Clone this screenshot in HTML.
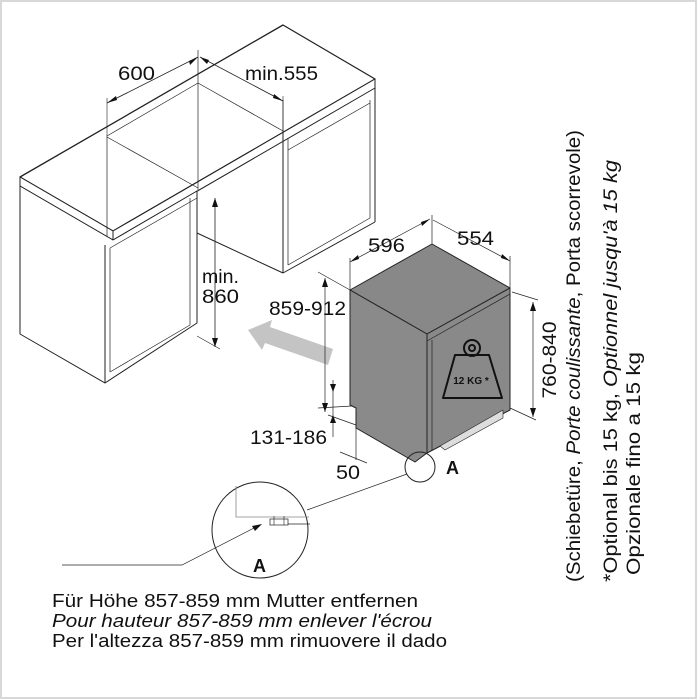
<!DOCTYPE html>
<html><head><meta charset="utf-8"><style>
html,body{margin:0;padding:0;background:#fff;}
svg{display:block;font-family:"Liberation Sans",sans-serif;}
</style></head><body>
<svg width="697" height="700" viewBox="0 0 697 700" xmlns="http://www.w3.org/2000/svg">
<rect x="1" y="1" width="695" height="697" fill="#fff" stroke="#d8d8d8" stroke-width="2"/>
<g fill="none" stroke="#222" stroke-width="1" stroke-linejoin="round">
<!-- countertop -->
<polygon points="20,177 283,25 375,79 113,231" fill="#fff" stroke-width="1.3"/>
<polygon points="20,177 113,231 113,240 20,186" fill="#fff"/>
<polygon points="113,231 375,79 375,88 113,240" fill="#fff"/>
<!-- back opening lines (visible through) -->
<polyline points="107,237 107,136 198,83 283,131 283,100" stroke-width="0.7"/>
<line x1="198" y1="50" x2="198" y2="190" stroke-width="0.7"/>
<line x1="107" y1="137" x2="198" y2="188" stroke-width="0.7"/>
<!-- left cabinet -->
<polygon points="20,186 113,240 197,191 197,323 105,383 20,334" fill="#fff"/>
<line x1="105" y1="245" x2="105" y2="383"/>
<line x1="110" y1="248" x2="110" y2="372" stroke-width="0.7"/>
<polyline points="110,248 197,198" stroke-width="0.7"/>
<polyline points="110,372 190,325 190,198" stroke-width="0.7"/>
<!-- gap floor line -->
<polyline points="197,233 283,273" />
<!-- right cabinet -->
<line x1="283" y1="131" x2="283" y2="273"/>
<line x1="288" y1="138" x2="288" y2="265" stroke-width="0.7"/>
<line x1="375" y1="88" x2="375" y2="222"/>
<polyline points="283,273 375,222"/>
<polyline points="288,265 370,218 370,100" stroke-width="0.7"/>
<line x1="288" y1="150" x2="370" y2="103" stroke-width="0.7"/>
<!-- dim 600 / min.555 -->
<line x1="107" y1="103" x2="198" y2="57" stroke-width="0.8"/>
<line x1="200" y1="57" x2="283" y2="101" stroke-width="0.8"/>
<line x1="107" y1="98" x2="107" y2="136" stroke-width="0.6"/>
<line x1="283" y1="96" x2="283" y2="131" stroke-width="0.6"/>
<!-- min 860 -->
<line x1="215" y1="198" x2="215" y2="347" stroke-width="0.8"/>
<line x1="197" y1="336" x2="220" y2="349" stroke-width="0.6"/>
</g>
<g fill="#111">
<polygon points="107,103 116,96 117,100"/>
<polygon points="198,57 189,61 190,65"/>
<polygon points="200,57 209,60 207,64"/>
<polygon points="283,101 274,94 273,98"/>
<polygon points="215,198 212,207 218,207"/>
<polygon points="215,347 212,338 218,338"/>
</g>
<g font-size="19" fill="#111">
<text x="118" y="80" textLength="37" lengthAdjust="spacingAndGlyphs">600</text>
<text x="245" y="80" textLength="73" lengthAdjust="spacingAndGlyphs">min.555</text>
<text x="202" y="283" textLength="37" lengthAdjust="spacingAndGlyphs">min.</text>
<text x="202" y="303" textLength="37" lengthAdjust="spacingAndGlyphs">860</text>
</g>
<!-- arrow -->
<polygon points="248,330 272,320 270,327 333,349 328,365 265,343 262,350" fill="#c4c4c4"/>
<!-- appliance -->
<g stroke="#222" stroke-width="1" stroke-linejoin="round">
<polygon points="350,290 432,244 510,288 427,334" fill="#888"/>
<polygon points="350,290 427,334 427,453 415,462 356,428 356,408 350,405" fill="#8a8a8a"/>
<polygon points="427,334 510,288 510,410 427,453" fill="#898989"/>
<line x1="427" y1="341" x2="510" y2="294" stroke-width="0.7"/>
<line x1="432" y1="340" x2="432" y2="450" stroke-width="0.7"/>
<polygon points="440,446 503,410 503,418 445,450" fill="#ddd" stroke-width="0.6"/>
</g>
<!-- weight icon -->
<g stroke="#111" stroke-width="2" fill="none">
<circle cx="472" cy="348" r="8"/>
<circle cx="472" cy="348" r="3"/>
<path d="M455,355 L489,355 L502,398 L443,398 Z" stroke-linejoin="round"/>
</g>
<text x="471" y="384" font-size="10" font-weight="bold" text-anchor="middle" fill="#111">12 KG *</text>
<!-- dims appliance -->
<g stroke="#222" stroke-width="0.7" fill="none">
<line x1="350" y1="262" x2="430" y2="219"/>
<line x1="350" y1="258" x2="350" y2="290"/>
<line x1="432" y1="215" x2="432" y2="244"/>
<line x1="433" y1="220" x2="510" y2="261"/>
<line x1="510" y1="256" x2="510" y2="288"/>
<line x1="533" y1="302" x2="533" y2="417"/>
<line x1="512" y1="292" x2="538" y2="300"/>
<line x1="510" y1="408" x2="536" y2="420"/>
<line x1="325" y1="278" x2="325" y2="412"/>
<line x1="318" y1="272" x2="350" y2="290"/>
<line x1="318" y1="408" x2="352" y2="406"/>
<line x1="333" y1="380" x2="333" y2="437"/>
<line x1="328" y1="415" x2="356" y2="425"/>
<line x1="340" y1="452" x2="367" y2="463"/>
<line x1="356" y1="428" x2="356" y2="460"/>
</g>
<g fill="#111">
<polygon points="350,262 358,255 359,259"/>
<polygon points="430,219 421,222 422,226"/>
<polygon points="510,261 502,254 501,258"/>
<polygon points="533,302 530,311 536,311"/>
<polygon points="533,417 530,408 536,408"/>
<polygon points="325,278 322,287 328,287"/>
<polygon points="325,412 322,403 328,403"/>
<polygon points="333,392 330,384 336,384"/>
<polygon points="333,415 330,423 336,423"/>
</g>
<g font-size="19" fill="#111">
<text x="368" y="252" textLength="37" lengthAdjust="spacingAndGlyphs">596</text>
<text x="457" y="245" textLength="37" lengthAdjust="spacingAndGlyphs">554</text>
<text x="269" y="315" textLength="77" lengthAdjust="spacingAndGlyphs">859-912</text>
<text x="250" y="444" textLength="77" lengthAdjust="spacingAndGlyphs">131-186</text>
<text x="336" y="479" textLength="24" lengthAdjust="spacingAndGlyphs">50</text>
<text transform="translate(556,360) rotate(-90)" text-anchor="middle" textLength="77" lengthAdjust="spacingAndGlyphs">760-840</text>
<text transform="translate(580,582) rotate(-90)" textLength="452" lengthAdjust="spacingAndGlyphs">(Schiebetüre, <tspan font-style="italic">Porte coulissante</tspan>, Porta scorrevole)</text>
<text transform="translate(617,582) rotate(-90)" textLength="422" lengthAdjust="spacingAndGlyphs">*Optional bis 15 kg, <tspan font-style="italic">Optionnel jusqu'à 15 kg</tspan></text>
<text transform="translate(640,575) rotate(-90)" textLength="223" lengthAdjust="spacingAndGlyphs">Opzionale fino a 15 kg</text>
</g>
<!-- detail A -->
<g stroke="#222" fill="none">
<circle cx="420" cy="467" r="15" stroke-width="1"/>
<line x1="407" y1="474" x2="307" y2="510" stroke-width="0.7"/>
<circle cx="260" cy="530" r="48" fill="#fff" stroke-width="1"/>
<polyline points="236,486 236,517 309,517" stroke="#888" stroke-width="0.8"/>
<line x1="288" y1="524" x2="310" y2="524" stroke-width="0.7"/>
<rect x="270" y="519" width="18" height="6" stroke-width="0.7"/>
<line x1="274" y1="516" x2="274" y2="525" stroke-width="0.6"/>
<line x1="284" y1="516" x2="284" y2="525" stroke-width="0.6"/>
<polyline points="62,565 182,565 258,526" stroke-width="0.7"/>
</g>
<polygon points="262,524 252,526 255,531" fill="#111"/>
<g font-size="18" font-weight="bold" fill="#111">
<text x="446" y="474">A</text>
<text x="253" y="572">A</text>
</g>
<g font-size="18" fill="#111">
<text x="52" y="607" textLength="366" lengthAdjust="spacingAndGlyphs">Für Höhe 857-859 mm Mutter entfernen</text>
<text x="52" y="627" font-style="italic" textLength="380" lengthAdjust="spacingAndGlyphs">Pour hauteur 857-859 mm enlever l'écrou</text>
<text x="52" y="647" textLength="395" lengthAdjust="spacingAndGlyphs">Per l'altezza 857-859 mm rimuovere il dado</text>
</g>
</svg>
</body></html>
